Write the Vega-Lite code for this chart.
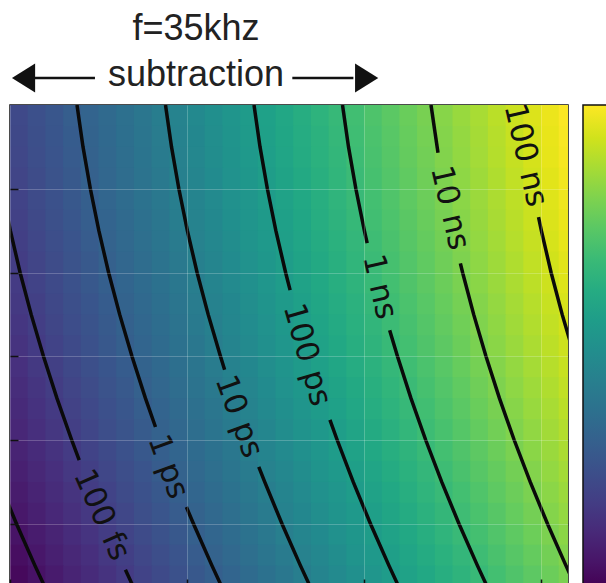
{
"$schema": "https://vega.github.io/schema/vega-lite/v6.json",
"width": 558, "height": 482,
"autosize": {"type": "none"},
"padding": {"left": 10, "top": 105, "right": 38, "bottom": 0},
"background": "white",
"title": {"text": "f=35khz", "subtitle": "subtraction", "anchor": "middle", "dx": -93, "dy": 42, "font": "Liberation Sans", "fontSize": 36, "fontWeight": "normal", "color": "#222", "subtitleFont": "Liberation Sans", "subtitleFontSize": 36, "subtitleColor": "#222", "subtitlePadding": 10, "offset": 12},
"config": {"view": {"stroke": "#111", "strokeWidth": 1.5}},
"datasets": {
"cols": [{"key":"k0","u0":0,"u1":0.21},{"key":"k1","u0":0.2,"u1":0.41},{"key":"k2","u0":0.4,"u1":0.61},{"key":"k3","u0":0.6,"u1":0.81},{"key":"k4","u0":0.8,"u1":1.01},{"key":"k5","u0":1.0,"u1":1.21},{"key":"k6","u0":1.2,"u1":1.41},{"key":"k7","u0":1.4,"u1":1.61},{"key":"k8","u0":1.6,"u1":1.81},{"key":"k9","u0":1.8,"u1":2.01},{"key":"k10","u0":2.0,"u1":2.21},{"key":"k11","u0":2.2,"u1":2.41},{"key":"k12","u0":2.4,"u1":2.61},{"key":"k13","u0":2.6,"u1":2.81},{"key":"k14","u0":2.8,"u1":3.01},{"key":"k15","u0":3.0,"u1":3.21},{"key":"k16","u0":3.2,"u1":3.41},{"key":"k17","u0":3.4,"u1":3.61},{"key":"k18","u0":3.6,"u1":3.81},{"key":"k19","u0":3.8,"u1":4.01},{"key":"k20","u0":4.0,"u1":4.21},{"key":"k21","u0":4.2,"u1":4.41},{"key":"k22","u0":4.4,"u1":4.61},{"key":"k23","u0":4.6,"u1":4.81},{"key":"k24","u0":4.8,"u1":5.01},{"key":"k25","u0":5.0,"u1":5.21},{"key":"k26","u0":5.2,"u1":5.41},{"key":"k27","u0":5.4,"u1":5.61},{"key":"k28","u0":5.6,"u1":5.81},{"key":"k29","u0":5.8,"u1":6.01},{"key":"k30","u0":6.0,"u1":6.21},{"key":"k31","u0":6.2,"u1":6.41}],
"heat": [
{"w0":0,"w1":0.26,"k0":-12.67,"k1":-12.47,"k2":-12.27,"k3":-12.07,"k4":-11.87,"k5":-11.67,"k6":-11.47,"k7":-11.27,"k8":-11.07,"k9":-10.87,"k10":-10.67,"k11":-10.47,"k12":-10.27,"k13":-10.07,"k14":-9.87,"k15":-9.67,"k16":-9.47,"k17":-9.27,"k18":-9.07,"k19":-8.87,"k20":-8.67,"k21":-8.47,"k22":-8.27,"k23":-8.07,"k24":-7.87,"k25":-7.67,"k26":-7.47,"k27":-7.27,"k28":-7.07,"k29":-6.87,"k30":-6.67,"k31":-6.47},
{"w0":0.25,"w1":0.51,"k0":-12.71,"k1":-12.51,"k2":-12.31,"k3":-12.11,"k4":-11.91,"k5":-11.71,"k6":-11.51,"k7":-11.31,"k8":-11.11,"k9":-10.91,"k10":-10.71,"k11":-10.51,"k12":-10.31,"k13":-10.11,"k14":-9.91,"k15":-9.71,"k16":-9.51,"k17":-9.31,"k18":-9.11,"k19":-8.91,"k20":-8.71,"k21":-8.51,"k22":-8.31,"k23":-8.11,"k24":-7.91,"k25":-7.71,"k26":-7.51,"k27":-7.31,"k28":-7.11,"k29":-6.91,"k30":-6.71,"k31":-6.51},
{"w0":0.5,"w1":0.76,"k0":-12.74,"k1":-12.54,"k2":-12.34,"k3":-12.14,"k4":-11.94,"k5":-11.74,"k6":-11.54,"k7":-11.34,"k8":-11.14,"k9":-10.94,"k10":-10.74,"k11":-10.54,"k12":-10.34,"k13":-10.14,"k14":-9.94,"k15":-9.74,"k16":-9.54,"k17":-9.34,"k18":-9.14,"k19":-8.94,"k20":-8.74,"k21":-8.54,"k22":-8.34,"k23":-8.14,"k24":-7.94,"k25":-7.74,"k26":-7.54,"k27":-7.34,"k28":-7.14,"k29":-6.94,"k30":-6.74,"k31":-6.54},
{"w0":0.75,"w1":1.01,"k0":-12.79,"k1":-12.59,"k2":-12.39,"k3":-12.19,"k4":-11.99,"k5":-11.79,"k6":-11.59,"k7":-11.39,"k8":-11.19,"k9":-10.99,"k10":-10.79,"k11":-10.59,"k12":-10.39,"k13":-10.19,"k14":-9.99,"k15":-9.79,"k16":-9.59,"k17":-9.39,"k18":-9.19,"k19":-8.99,"k20":-8.79,"k21":-8.59,"k22":-8.39,"k23":-8.19,"k24":-7.99,"k25":-7.79,"k26":-7.59,"k27":-7.39,"k28":-7.19,"k29":-6.99,"k30":-6.79,"k31":-6.59},
{"w0":1.0,"w1":1.26,"k0":-12.83,"k1":-12.63,"k2":-12.43,"k3":-12.23,"k4":-12.03,"k5":-11.83,"k6":-11.63,"k7":-11.43,"k8":-11.23,"k9":-11.03,"k10":-10.83,"k11":-10.63,"k12":-10.43,"k13":-10.23,"k14":-10.03,"k15":-9.83,"k16":-9.63,"k17":-9.43,"k18":-9.23,"k19":-9.03,"k20":-8.83,"k21":-8.63,"k22":-8.43,"k23":-8.23,"k24":-8.03,"k25":-7.83,"k26":-7.63,"k27":-7.43,"k28":-7.23,"k29":-7.03,"k30":-6.83,"k31":-6.63},
{"w0":1.25,"w1":1.51,"k0":-12.88,"k1":-12.68,"k2":-12.48,"k3":-12.28,"k4":-12.08,"k5":-11.88,"k6":-11.68,"k7":-11.48,"k8":-11.28,"k9":-11.08,"k10":-10.88,"k11":-10.68,"k12":-10.48,"k13":-10.28,"k14":-10.08,"k15":-9.88,"k16":-9.68,"k17":-9.48,"k18":-9.28,"k19":-9.08,"k20":-8.88,"k21":-8.68,"k22":-8.48,"k23":-8.28,"k24":-8.08,"k25":-7.88,"k26":-7.68,"k27":-7.48,"k28":-7.28,"k29":-7.08,"k30":-6.88,"k31":-6.68},
{"w0":1.5,"w1":1.76,"k0":-12.93,"k1":-12.73,"k2":-12.53,"k3":-12.33,"k4":-12.13,"k5":-11.93,"k6":-11.73,"k7":-11.53,"k8":-11.33,"k9":-11.13,"k10":-10.93,"k11":-10.73,"k12":-10.53,"k13":-10.33,"k14":-10.13,"k15":-9.93,"k16":-9.73,"k17":-9.53,"k18":-9.33,"k19":-9.13,"k20":-8.93,"k21":-8.73,"k22":-8.53,"k23":-8.33,"k24":-8.13,"k25":-7.93,"k26":-7.73,"k27":-7.53,"k28":-7.33,"k29":-7.13,"k30":-6.93,"k31":-6.73},
{"w0":1.75,"w1":2.01,"k0":-12.99,"k1":-12.79,"k2":-12.59,"k3":-12.39,"k4":-12.19,"k5":-11.99,"k6":-11.79,"k7":-11.59,"k8":-11.39,"k9":-11.19,"k10":-10.99,"k11":-10.79,"k12":-10.59,"k13":-10.39,"k14":-10.19,"k15":-9.99,"k16":-9.79,"k17":-9.59,"k18":-9.39,"k19":-9.19,"k20":-8.99,"k21":-8.79,"k22":-8.59,"k23":-8.39,"k24":-8.19,"k25":-7.99,"k26":-7.79,"k27":-7.59,"k28":-7.39,"k29":-7.19,"k30":-6.99,"k31":-6.79},
{"w0":2.0,"w1":2.26,"k0":-13.04,"k1":-12.84,"k2":-12.64,"k3":-12.44,"k4":-12.24,"k5":-12.04,"k6":-11.84,"k7":-11.64,"k8":-11.44,"k9":-11.24,"k10":-11.04,"k11":-10.84,"k12":-10.64,"k13":-10.44,"k14":-10.24,"k15":-10.04,"k16":-9.84,"k17":-9.64,"k18":-9.44,"k19":-9.24,"k20":-9.04,"k21":-8.84,"k22":-8.64,"k23":-8.44,"k24":-8.24,"k25":-8.04,"k26":-7.84,"k27":-7.64,"k28":-7.44,"k29":-7.24,"k30":-7.04,"k31":-6.84},
{"w0":2.25,"w1":2.51,"k0":-13.11,"k1":-12.91,"k2":-12.71,"k3":-12.51,"k4":-12.31,"k5":-12.11,"k6":-11.91,"k7":-11.71,"k8":-11.51,"k9":-11.31,"k10":-11.11,"k11":-10.91,"k12":-10.71,"k13":-10.51,"k14":-10.31,"k15":-10.11,"k16":-9.91,"k17":-9.71,"k18":-9.51,"k19":-9.31,"k20":-9.11,"k21":-8.91,"k22":-8.71,"k23":-8.51,"k24":-8.31,"k25":-8.11,"k26":-7.91,"k27":-7.71,"k28":-7.51,"k29":-7.31,"k30":-7.11,"k31":-6.91},
{"w0":2.5,"w1":2.76,"k0":-13.17,"k1":-12.97,"k2":-12.77,"k3":-12.57,"k4":-12.37,"k5":-12.17,"k6":-11.97,"k7":-11.77,"k8":-11.57,"k9":-11.37,"k10":-11.17,"k11":-10.97,"k12":-10.77,"k13":-10.57,"k14":-10.37,"k15":-10.17,"k16":-9.97,"k17":-9.77,"k18":-9.57,"k19":-9.37,"k20":-9.17,"k21":-8.97,"k22":-8.77,"k23":-8.57,"k24":-8.37,"k25":-8.17,"k26":-7.97,"k27":-7.77,"k28":-7.57,"k29":-7.37,"k30":-7.17,"k31":-6.97},
{"w0":2.75,"w1":3.01,"k0":-13.24,"k1":-13.04,"k2":-12.84,"k3":-12.64,"k4":-12.44,"k5":-12.24,"k6":-12.04,"k7":-11.84,"k8":-11.64,"k9":-11.44,"k10":-11.24,"k11":-11.04,"k12":-10.84,"k13":-10.64,"k14":-10.44,"k15":-10.24,"k16":-10.04,"k17":-9.84,"k18":-9.64,"k19":-9.44,"k20":-9.24,"k21":-9.04,"k22":-8.84,"k23":-8.64,"k24":-8.44,"k25":-8.24,"k26":-8.04,"k27":-7.84,"k28":-7.64,"k29":-7.44,"k30":-7.24,"k31":-7.04},
{"w0":3.0,"w1":3.26,"k0":-13.31,"k1":-13.11,"k2":-12.91,"k3":-12.71,"k4":-12.51,"k5":-12.31,"k6":-12.11,"k7":-11.91,"k8":-11.71,"k9":-11.51,"k10":-11.31,"k11":-11.11,"k12":-10.91,"k13":-10.71,"k14":-10.51,"k15":-10.31,"k16":-10.11,"k17":-9.91,"k18":-9.71,"k19":-9.51,"k20":-9.31,"k21":-9.11,"k22":-8.91,"k23":-8.71,"k24":-8.51,"k25":-8.31,"k26":-8.11,"k27":-7.91,"k28":-7.71,"k29":-7.51,"k30":-7.31,"k31":-7.11},
{"w0":3.25,"w1":3.51,"k0":-13.39,"k1":-13.19,"k2":-12.99,"k3":-12.79,"k4":-12.59,"k5":-12.39,"k6":-12.19,"k7":-11.99,"k8":-11.79,"k9":-11.59,"k10":-11.39,"k11":-11.19,"k12":-10.99,"k13":-10.79,"k14":-10.59,"k15":-10.39,"k16":-10.19,"k17":-9.99,"k18":-9.79,"k19":-9.59,"k20":-9.39,"k21":-9.19,"k22":-8.99,"k23":-8.79,"k24":-8.59,"k25":-8.39,"k26":-8.19,"k27":-7.99,"k28":-7.79,"k29":-7.59,"k30":-7.39,"k31":-7.19},
{"w0":3.5,"w1":3.76,"k0":-13.47,"k1":-13.27,"k2":-13.07,"k3":-12.87,"k4":-12.67,"k5":-12.47,"k6":-12.27,"k7":-12.07,"k8":-11.87,"k9":-11.67,"k10":-11.47,"k11":-11.27,"k12":-11.07,"k13":-10.87,"k14":-10.67,"k15":-10.47,"k16":-10.27,"k17":-10.07,"k18":-9.87,"k19":-9.67,"k20":-9.47,"k21":-9.27,"k22":-9.07,"k23":-8.87,"k24":-8.67,"k25":-8.47,"k26":-8.27,"k27":-8.07,"k28":-7.87,"k29":-7.67,"k30":-7.47,"k31":-7.27},
{"w0":3.75,"w1":4.01,"k0":-13.55,"k1":-13.35,"k2":-13.15,"k3":-12.95,"k4":-12.75,"k5":-12.55,"k6":-12.35,"k7":-12.15,"k8":-11.95,"k9":-11.75,"k10":-11.55,"k11":-11.35,"k12":-11.15,"k13":-10.95,"k14":-10.75,"k15":-10.55,"k16":-10.35,"k17":-10.15,"k18":-9.95,"k19":-9.75,"k20":-9.55,"k21":-9.35,"k22":-9.15,"k23":-8.95,"k24":-8.75,"k25":-8.55,"k26":-8.35,"k27":-8.15,"k28":-7.95,"k29":-7.75,"k30":-7.55,"k31":-7.35},
{"w0":4.0,"w1":4.26,"k0":-13.64,"k1":-13.44,"k2":-13.24,"k3":-13.04,"k4":-12.84,"k5":-12.64,"k6":-12.44,"k7":-12.24,"k8":-12.04,"k9":-11.84,"k10":-11.64,"k11":-11.44,"k12":-11.24,"k13":-11.04,"k14":-10.84,"k15":-10.64,"k16":-10.44,"k17":-10.24,"k18":-10.04,"k19":-9.84,"k20":-9.64,"k21":-9.44,"k22":-9.24,"k23":-9.04,"k24":-8.84,"k25":-8.64,"k26":-8.44,"k27":-8.24,"k28":-8.04,"k29":-7.84,"k30":-7.64,"k31":-7.44},
{"w0":4.25,"w1":4.51,"k0":-13.73,"k1":-13.53,"k2":-13.33,"k3":-13.13,"k4":-12.93,"k5":-12.73,"k6":-12.53,"k7":-12.33,"k8":-12.13,"k9":-11.93,"k10":-11.73,"k11":-11.53,"k12":-11.33,"k13":-11.13,"k14":-10.93,"k15":-10.73,"k16":-10.53,"k17":-10.33,"k18":-10.13,"k19":-9.93,"k20":-9.73,"k21":-9.53,"k22":-9.33,"k23":-9.13,"k24":-8.93,"k25":-8.73,"k26":-8.53,"k27":-8.33,"k28":-8.13,"k29":-7.93,"k30":-7.73,"k31":-7.53},
{"w0":4.5,"w1":4.76,"k0":-13.83,"k1":-13.63,"k2":-13.43,"k3":-13.23,"k4":-13.03,"k5":-12.83,"k6":-12.63,"k7":-12.43,"k8":-12.23,"k9":-12.03,"k10":-11.83,"k11":-11.63,"k12":-11.43,"k13":-11.23,"k14":-11.03,"k15":-10.83,"k16":-10.63,"k17":-10.43,"k18":-10.23,"k19":-10.03,"k20":-9.83,"k21":-9.63,"k22":-9.43,"k23":-9.23,"k24":-9.03,"k25":-8.83,"k26":-8.63,"k27":-8.43,"k28":-8.23,"k29":-8.03,"k30":-7.83,"k31":-7.63},
{"w0":4.75,"w1":5.01,"k0":-13.92,"k1":-13.72,"k2":-13.52,"k3":-13.32,"k4":-13.12,"k5":-12.92,"k6":-12.72,"k7":-12.52,"k8":-12.32,"k9":-12.12,"k10":-11.92,"k11":-11.72,"k12":-11.52,"k13":-11.32,"k14":-11.12,"k15":-10.92,"k16":-10.72,"k17":-10.52,"k18":-10.32,"k19":-10.12,"k20":-9.92,"k21":-9.72,"k22":-9.52,"k23":-9.32,"k24":-9.12,"k25":-8.92,"k26":-8.72,"k27":-8.52,"k28":-8.32,"k29":-8.12,"k30":-7.92,"k31":-7.72},
{"w0":5.0,"w1":5.26,"k0":-14.02,"k1":-13.82,"k2":-13.62,"k3":-13.42,"k4":-13.22,"k5":-13.02,"k6":-12.82,"k7":-12.62,"k8":-12.42,"k9":-12.22,"k10":-12.02,"k11":-11.82,"k12":-11.62,"k13":-11.42,"k14":-11.22,"k15":-11.02,"k16":-10.82,"k17":-10.62,"k18":-10.42,"k19":-10.22,"k20":-10.02,"k21":-9.82,"k22":-9.62,"k23":-9.42,"k24":-9.22,"k25":-9.02,"k26":-8.82,"k27":-8.62,"k28":-8.42,"k29":-8.22,"k30":-8.02,"k31":-7.82},
{"w0":5.25,"w1":5.51,"k0":-14.13,"k1":-13.93,"k2":-13.73,"k3":-13.53,"k4":-13.33,"k5":-13.13,"k6":-12.93,"k7":-12.73,"k8":-12.53,"k9":-12.33,"k10":-12.13,"k11":-11.93,"k12":-11.73,"k13":-11.53,"k14":-11.33,"k15":-11.13,"k16":-10.93,"k17":-10.73,"k18":-10.53,"k19":-10.33,"k20":-10.13,"k21":-9.93,"k22":-9.73,"k23":-9.53,"k24":-9.33,"k25":-9.13,"k26":-8.93,"k27":-8.73,"k28":-8.53,"k29":-8.33,"k30":-8.13,"k31":-7.93},
{"w0":5.5,"w1":5.8,"k0":-14.24,"k1":-14.04,"k2":-13.84,"k3":-13.64,"k4":-13.44,"k5":-13.24,"k6":-13.04,"k7":-12.84,"k8":-12.64,"k9":-12.44,"k10":-12.24,"k11":-12.04,"k12":-11.84,"k13":-11.64,"k14":-11.44,"k15":-11.24,"k16":-11.04,"k17":-10.84,"k18":-10.64,"k19":-10.44,"k20":-10.24,"k21":-10.04,"k22":-9.84,"k23":-9.64,"k24":-9.44,"k25":-9.24,"k26":-9.04,"k27":-8.84,"k28":-8.64,"k29":-8.44,"k30":-8.24,"k31":-8.04}
],
"contours": [
{"seg":"m14","u":-0.122,"w":4.5},{"seg":"m14","u":0.073,"w":5.0},{"seg":"m14","u":0.282,"w":5.5},{"seg":"m14","u":0.394,"w":5.755},
{"seg":"m13a","u":-0.092,"w":1.0},{"seg":"m13a","u":0.004,"w":1.5},{"seg":"m13a","u":0.114,"w":2.0},{"seg":"m13a","u":0.239,"w":2.5},{"seg":"m13a","u":0.378,"w":3.0},{"seg":"m13a","u":0.530,"w":3.5},{"seg":"m13a","u":0.697,"w":4.0},{"seg":"m13a","u":0.782,"w":4.24},
{"seg":"m13b","u":1.304,"w":5.55},{"seg":"m13b","u":1.394,"w":5.755},
{"seg":"m12a","u":0.757,"w":0},{"seg":"m12a","u":0.825,"w":0.5},{"seg":"m12a","u":0.908,"w":1},{"seg":"m12a","u":1.004,"w":1.5},{"seg":"m12a","u":1.114,"w":2},{"seg":"m12a","u":1.239,"w":2.5},{"seg":"m12a","u":1.378,"w":3},{"seg":"m12a","u":1.530,"w":3.5},{"seg":"m12a","u":1.644,"w":3.845},
{"seg":"m12b","u":1.993,"w":4.8},{"seg":"m12b","u":2.073,"w":5.0},{"seg":"m12b","u":2.282,"w":5.5},{"seg":"m12b","u":2.394,"w":5.755},
{"seg":"m11a","u":1.757,"w":0},{"seg":"m11a","u":1.825,"w":0.5},{"seg":"m11a","u":1.908,"w":1},{"seg":"m11a","u":2.004,"w":1.5},{"seg":"m11a","u":2.114,"w":2},{"seg":"m11a","u":2.239,"w":2.5},{"seg":"m11a","u":2.378,"w":3},{"seg":"m11a","u":2.425,"w":3.16},
{"seg":"m11b","u":2.811,"w":4.32},{"seg":"m11b","u":2.878,"w":4.5},{"seg":"m11b","u":3.073,"w":5},{"seg":"m11b","u":3.282,"w":5.5},{"seg":"m11b","u":3.394,"w":5.755},
{"seg":"m10a","u":2.757,"w":0},{"seg":"m10a","u":2.825,"w":0.5},{"seg":"m10a","u":2.908,"w":1},{"seg":"m10a","u":3.004,"w":1.5},{"seg":"m10a","u":3.114,"w":2},{"seg":"m10a","u":3.165,"w":2.21},
{"seg":"m10b","u":3.615,"w":3.76},{"seg":"m10b","u":3.697,"w":4},{"seg":"m10b","u":3.878,"w":4.5},{"seg":"m10b","u":4.073,"w":5},{"seg":"m10b","u":4.282,"w":5.5},{"seg":"m10b","u":4.394,"w":5.755},
{"seg":"m9a","u":3.757,"w":0},{"seg":"m9a","u":3.825,"w":0.5},{"seg":"m9a","u":3.908,"w":1},{"seg":"m9a","u":4.004,"w":1.5},{"seg":"m9a","u":4.036,"w":1.65},
{"seg":"m9b","u":4.290,"w":2.69},{"seg":"m9b","u":4.378,"w":3},{"seg":"m9b","u":4.530,"w":3.5},{"seg":"m9b","u":4.697,"w":4},{"seg":"m9b","u":4.878,"w":4.5},{"seg":"m9b","u":5.073,"w":5},{"seg":"m9b","u":5.282,"w":5.5},{"seg":"m9b","u":5.394,"w":5.755},
{"seg":"m8a","u":4.757,"w":0},{"seg":"m8a","u":4.836,"w":0.57},
{"seg":"m8b","u":5.089,"w":1.89},{"seg":"m8b","u":5.114,"w":2},{"seg":"m8b","u":5.239,"w":2.5},{"seg":"m8b","u":5.378,"w":3},{"seg":"m8b","u":5.530,"w":3.5},{"seg":"m8b","u":5.697,"w":4},{"seg":"m8b","u":5.878,"w":4.5},{"seg":"m8b","u":6.073,"w":5},{"seg":"m8b","u":6.282,"w":5.5},{"seg":"m8b","u":6.394,"w":5.755},
{"seg":"m7","u":5.972,"w":1.34},{"seg":"m7","u":6.004,"w":1.5},{"seg":"m7","u":6.114,"w":2},{"seg":"m7","u":6.239,"w":2.5},{"seg":"m7","u":6.378,"w":3}
],
"labels": [
{"t":"100 fs","u":1.03,"w":4.895,"g":"a"},
{"t":"1 ps","u":1.78,"w":4.32,"g":"b"},
{"t":"10 ps","u":2.58,"w":3.72,"g":"b"},
{"t":"100 ps","u":3.35,"w":2.985,"g":"c"},
{"t":"1 ns","u":4.17,"w":2.17,"g":"d"},
{"t":"10 ns","u":4.965,"w":1.23,"g":"d"},
{"t":"100 ns","u":5.82,"w":0.6,"g":"d"}
],
"arrows": [
{"u":0.28,"u2":0.96,"w":-0.322},
{"u":3.19,"u2":3.88,"w":-0.322}
],
"heads": [
{"dir":"left","u":0.153,"w":-0.322},
{"dir":"right","u":4.03,"w":-0.322}
]
},
"resolve": {"axis": {"y": "independent"}},
"layer": [
{
"data": {"name": "heat"},
"transform": [
{"fold": ["k0","k1","k2","k3","k4","k5","k6","k7","k8","k9","k10","k11","k12","k13","k14","k15","k16","k17","k18","k19","k20","k21","k22","k23","k24","k25","k26","k27","k28","k29","k30","k31"], "as": ["key","v"]},
{"lookup": "key", "from": {"data": {"name": "cols"}, "key": "key", "fields": ["u0","u1"]}}
],
"mark": {"type": "rect", "clip": true},
"encoding": {
"x": {"field": "u0", "type": "quantitative", "scale": {"domain": [0, 6.305], "nice": false, "zero": false}, "axis": {"values": [0,2,4,6], "labels": false, "title": null, "domain": false, "tickSize": -8, "tickColor": "#111", "tickWidth": 1.5, "grid": true, "gridColor": "#ffffff", "gridOpacity": 0.22, "gridWidth": 1, "zindex": 1}},
"x2": {"field": "u1"},
"y": {"field": "w0", "type": "quantitative", "scale": {"domain": [0, 5.755], "reverse": true, "nice": false, "zero": false}, "axis": {"orient": "left", "values": [1,2,3,4,5], "labels": false, "title": null, "domain": false, "tickSize": -8, "tickColor": "#111", "tickWidth": 1.5, "grid": true, "gridColor": "#ffffff", "gridOpacity": 0.22, "gridWidth": 1, "zindex": 1}},
"y2": {"field": "w1"},
"color": {"field": "v", "type": "quantitative", "scale": {"scheme": "viridis", "domain": [-14.4, -6.45]}, "legend": {"orient": "none", "legendX": 573, "legendY": 0, "direction": "vertical", "gradientLength": 482, "gradientThickness": 30, "title": null, "gradientStrokeColor": "#111", "gradientStrokeWidth": 1.5, "labelExpr": "''"}}
}
},
{
"data": {"name": "contours"},
"mark": {"type": "line", "clip": true, "color": "#0a0a0a", "strokeWidth": 3.5},
"encoding": {
"x": {"field": "u", "type": "quantitative"},
"y": {"field": "w", "type": "quantitative", "axis": {"orient": "right", "values": [1,2,3,4,5], "labels": false, "title": null, "domain": false, "tickSize": -8, "tickColor": "#111", "tickWidth": 1.5, "grid": false}},
"detail": {"field": "seg"},
"order": {"field": "w", "type": "quantitative"}
}
},
{
"data": {"name": "labels"},
"transform": [{"filter": "datum.g == 'a'"}],
"mark": {"type": "text", "clip": true, "angle": 66, "font": "DejaVu Sans", "fontSize": 31, "color": "#111", "align": "center", "baseline": "middle"},
"encoding": {"x": {"field": "u", "type": "quantitative"}, "y": {"field": "w", "type": "quantitative", "axis": null}, "text": {"field": "t"}}
},
{
"data": {"name": "labels"},
"transform": [{"filter": "datum.g == 'b'"}],
"mark": {"type": "text", "clip": true, "angle": 70, "font": "DejaVu Sans", "fontSize": 31, "color": "#111", "align": "center", "baseline": "middle"},
"encoding": {"x": {"field": "u", "type": "quantitative"}, "y": {"field": "w", "type": "quantitative", "axis": null}, "text": {"field": "t"}}
},
{
"data": {"name": "labels"},
"transform": [{"filter": "datum.g == 'c'"}],
"mark": {"type": "text", "clip": true, "angle": 74, "font": "DejaVu Sans", "fontSize": 31, "color": "#111", "align": "center", "baseline": "middle"},
"encoding": {"x": {"field": "u", "type": "quantitative"}, "y": {"field": "w", "type": "quantitative", "axis": null}, "text": {"field": "t"}}
},
{
"data": {"name": "labels"},
"transform": [{"filter": "datum.g == 'd'"}],
"mark": {"type": "text", "clip": true, "angle": 77, "font": "DejaVu Sans", "fontSize": 31, "color": "#111", "align": "center", "baseline": "middle"},
"encoding": {"x": {"field": "u", "type": "quantitative"}, "y": {"field": "w", "type": "quantitative", "axis": null}, "text": {"field": "t"}}
},
{
"data": {"name": "arrows"},
"mark": {"type": "rule", "color": "#111", "strokeWidth": 2.5},
"encoding": {"x": {"field": "u", "type": "quantitative"}, "x2": {"field": "u2"}, "y": {"field": "w", "type": "quantitative", "axis": null}}
},
{
"data": {"name": "heads"},
"mark": {"type": "point", "filled": true, "color": "#111", "opacity": 1, "size": 841},
"encoding": {"x": {"field": "u", "type": "quantitative"}, "y": {"field": "w", "type": "quantitative", "axis": null}, "shape": {"field": "dir", "type": "nominal", "scale": {"domain": ["left","right"], "range": ["M0.8,-1L-0.8,0L0.8,1Z", "M-0.8,-1L0.8,0L-0.8,1Z"]}, "legend": null}}
}
]
}
